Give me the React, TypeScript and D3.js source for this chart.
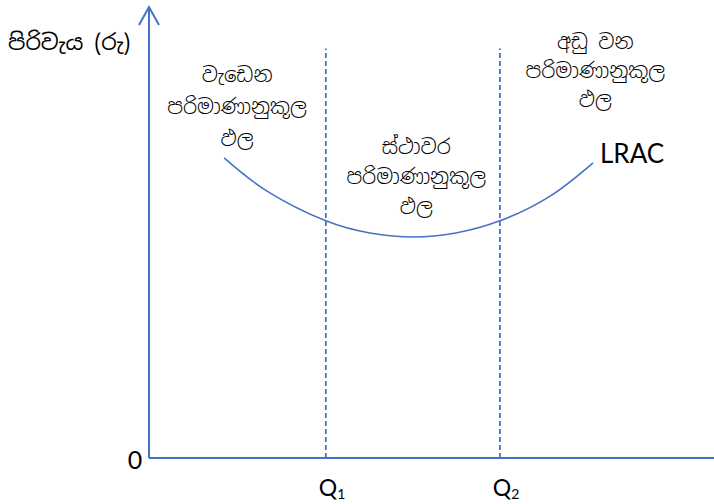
import React from 'react';
import { scaleLinear, line, curveNatural } from 'd3';

// LRAC curve (quantity, cost)
const lracQ = [13.3, 20.9, 31.3, 39.1, 46.7, 54.3, 62.1, 71.0, 78.6];
const lracCost = [66.7, 59.3, 52.7, 50.0, 49.1, 50.0, 52.7, 58.2, 65.6];

const quantityMarks = [31.3, 62.1];
const quantityNames = ['1', '2'];

const yLabel = 'පිරිවැය (රු)';
const curveLabel = 'LRAC';
const regionNames = [
  ['වැඩෙන', 'පරිමාණානුකූල', 'ඵල'],
  ['ස්ථාවර', 'පරිමාණානුකූල', 'ඵල'],
  ['අඩු වන', 'පරිමාණානුකූල', 'ඵල'],
];
const regionCentres = [15.6, 47.3, 79.0];
const regionTops = [83.5, 67.5, 90.9];
const regionGaps = [32, 30, 29];

const blue = '#4472c4';
const sinhala = '"Noto Sans Sinhala", "Iskoola Pota", "Noto Sans", sans-serif';
const latin = 'Lato, "Open Sans", "Noto Sans", sans-serif';

export default function App() {
  const width = 714;
  const height = 504;

  const x = scaleLinear().domain([0, 100]).range([149, 714]);
  const y = scaleLinear().domain([0, 100]).range([458, 8]);

  const points: [number, number][] = lracQ.map((q, i) => [q, lracCost[i]]);
  const path = line<[number, number]>()
    .x(d => x(d[0]))
    .y(d => y(d[1]))
    .curve(curveNatural)(points);

  return (
    <svg width={width} height={height} style={{ position: 'absolute', left: 0, top: 0, background: '#fff' }}>
      {/* axes */}
      <line x1={x(0)} y1={y(0)} x2={x(0)} y2={y(100) + 1} stroke={blue} strokeWidth={2} />
      <polyline
        points={`${x(0) - 10},${y(100) + 17} ${x(0)},${y(100) - 1} ${x(0) + 10},${y(100) + 17}`}
        fill="none" stroke={blue} strokeWidth={2}
      />
      <line x1={x(0)} y1={y(0)} x2={x(100)} y2={y(0)} stroke={blue} strokeWidth={2} />

      {/* Q1 / Q2 dashed lines */}
      {quantityMarks.map((q, i) => (
        <line key={i} x1={x(q)} x2={x(q)} y1={y(0)} y2={y(91)}
          stroke={blue} strokeWidth={1.8} strokeDasharray="5,3" />
      ))}

      {/* LRAC */}
      <path d={path || ''} fill="none" stroke={blue} strokeWidth={1.6} />

      {/* labels */}
      <text x={8} y={50} fontFamily={sinhala} fontSize={22} fill="#000">{yLabel}</text>
      <text x={x(0) - 14} y={y(0) + 11} fontFamily={latin} fontSize={25} textAnchor="middle" fill="#000">0</text>
      {quantityMarks.map((q, i) => (
        <text key={i} x={x(q) - 7} y={y(0) + 38} fontFamily={latin} fontSize={23} fill="#000">
          Q<tspan fontSize={14} dy={3}>{quantityNames[i]}</tspan>
        </text>
      ))}
      <text x={600} y={163} fontFamily={latin} fontSize={26} fill="#000">{curveLabel}</text>

      {regionNames.map((lines, r) => (
        <text key={r} fontFamily={sinhala} fontSize={20.5} fontWeight={300} textAnchor="middle" fill="#000">
          {lines.map((t, i) => (
            <tspan key={i} x={x(regionCentres[r])} y={y(regionTops[r]) + i * regionGaps[r]}>{t}</tspan>
          ))}
        </text>
      ))}
    </svg>
  );
}
